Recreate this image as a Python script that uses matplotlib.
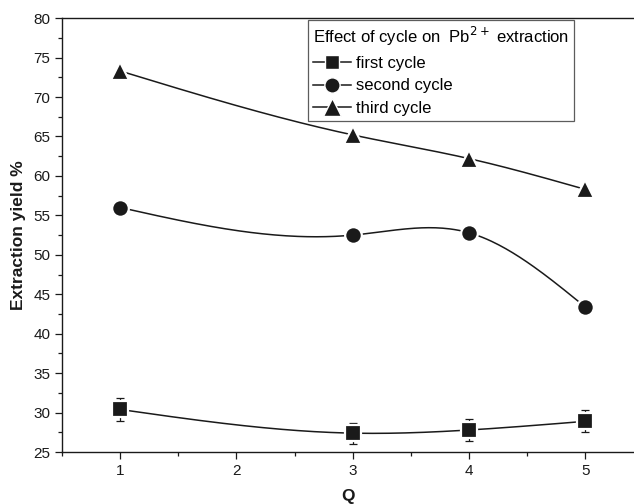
import matplotlib
matplotlib.use("Agg")
import matplotlib.pyplot as plt
from matplotlib.ticker import MultipleLocator
import numpy as np

plt.rcParams['font.family'] = ['Liberation Sans', 'DejaVu Sans']

q = [1, 3, 4, 5]
first_cycle = [30.4, 27.4, 27.8, 28.9]
first_err = [1.5, 1.35, 1.35, 1.4]
second_cycle = [56.0, 52.5, 52.8, 43.4]
third_cycle = [73.3, 65.2, 62.2, 58.3]
labels = ['first cycle', 'second cycle', 'third cycle']


def natural_spline(x, y, n=200):
    # plain natural cubic spline, like Origin's smoothed connector
    x = np.asarray(x, float)
    y = np.asarray(y, float)
    k = len(x)
    h = np.diff(x)
    A = np.zeros((k, k))
    b = np.zeros(k)
    A[0, 0] = A[-1, -1] = 1
    for i in range(1, k - 1):
        A[i, i - 1] = h[i - 1]
        A[i, i] = 2 * (h[i - 1] + h[i])
        A[i, i + 1] = h[i]
        b[i] = 6 * ((y[i + 1] - y[i]) / h[i] - (y[i] - y[i - 1]) / h[i - 1])
    m = np.linalg.solve(A, b)
    xs = np.linspace(x[0], x[-1], n)
    ys = np.empty_like(xs)
    for j, xv in enumerate(xs):
        i = min(np.searchsorted(x, xv, side='right') - 1, k - 2)
        t = xv - x[i]
        hi = h[i]
        a = (m[i + 1] - m[i]) / (6 * hi)
        c = (y[i + 1] - y[i]) / hi - hi * (2 * m[i] + m[i + 1]) / 6
        ys[j] = y[i] + c * t + m[i] / 2 * t ** 2 + a * t ** 3
    return xs, ys


fig = plt.figure(figsize=(6.34, 5.04), dpi=100)
ax = fig.add_axes([0.098, 0.103, 0.902, 0.861])

handles = []
for ys, mk, ms, lab in [(first_cycle, 's', 11, labels[0]),
                        (second_cycle, 'o', 12, labels[1]),
                        (third_cycle, '^', 13.5, labels[2])]:
    sx, sy = natural_spline(q, ys)
    ax.plot(sx, sy, color='#1a1a1a', lw=1.1, zorder=2)
    ax.plot(q, ys, ls='none', marker=mk, ms=ms, color='#1a1a1a',
            mec='white', mew=1.6, zorder=3)
    h, = ax.plot([], [], color='#1a1a1a', lw=1.1, marker=mk, ms=ms - 1,
                 mec='white', mew=1.0, label=lab)
    handles.append(h)

ax.errorbar(q, first_cycle, yerr=first_err, fmt='none', ecolor='#1a1a1a',
            elinewidth=0.9, capsize=3, capthick=0.9, zorder=1)

ax.set_xlim(0.5, 5.42)
ax.set_ylim(25, 80)
ax.xaxis.set_major_locator(MultipleLocator(1))
ax.xaxis.set_minor_locator(MultipleLocator(0.5))
ax.yaxis.set_major_locator(MultipleLocator(5))
ax.yaxis.set_minor_locator(MultipleLocator(2.5))
ax.tick_params(which='both', direction='out', width=0.9, labelsize=11,
               colors='#1a1a1a')
ax.tick_params(which='major', length=5)
ax.tick_params(which='minor', length=3)
ax.spines['right'].set_visible(False)
for s in ['left', 'bottom', 'top']:
    ax.spines[s].set_linewidth(1.0)
    ax.spines[s].set_color('#1a1a1a')

ax.set_ylabel('Extraction yield %', fontsize=12.5, fontweight='bold',
              color='#1a1a1a', labelpad=5)
ax.set_xlabel('Q', fontsize=12.5, fontweight='bold', color='#1a1a1a',
              labelpad=8)

leg = ax.legend(handles=handles, title='Effect of cycle on  Pb$^{2+}$ extraction',
                loc='upper left', bbox_to_anchor=(0.43, 0.995),
                fontsize=12, title_fontsize=12, frameon=True, fancybox=False,
                edgecolor='#333333', borderpad=0.3, labelspacing=0.45,
                handlelength=2.3, handletextpad=0.3, borderaxespad=0)
leg._legend_box.align = 'left'
leg.get_frame().set_linewidth(0.9)

fig.savefig('out.png', dpi=100)
